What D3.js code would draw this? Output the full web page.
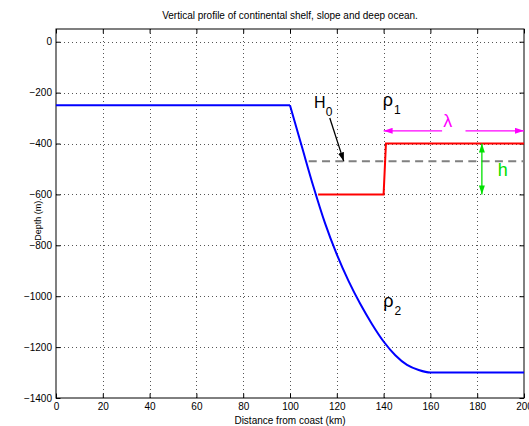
<!DOCTYPE html>
<html>
<head>
<meta charset="utf-8">
<script src="https://cdn.jsdelivr.net/npm/d3@7"></script>
<style>
  html, body { margin: 0; padding: 0; background: #fff; }
  svg { display: block; font-family: "Liberation Sans", Arial, Helvetica, sans-serif; }
</style>
</head>
<body>
<svg id="chart" width="529" height="426"></svg>
<script>
// Bottom profile: shelf, slope and abyssal plain (distance km, depth m)
const profileKm    = [0, 100, 105, 110, 115, 120, 125, 130, 135, 140, 145, 150, 155, 160, 200];
const profileDepth = [-250, -250, -410, -569, -714, -836, -940, -1030, -1109, -1178, -1232, -1270, -1290, -1300, -1300];

// Interface between the two layers (step of height h)
const interfaceKm    = [112, 140, 141, 200];
const interfaceDepth = [-600, -600, -400, -400];

// Mean interface depth H0
const meanKm    = [108, 200];
const meanDepth = [-470, -470];

// Annotation arrows: [x0, y0, x1, y1] in km / m
const h0Arrow      = [117, -300, 123, -470];
const lambdaArrows = [[165, -350, 140, -350], [175, -350, 200, -350]];
const hArrow       = [182, -400, 182, -600];

// Axis ticks
const xTicks = [0, 20, 40, 60, 80, 100, 120, 140, 160, 180, 200];
const yTicks = [-1400, -1200, -1000, -800, -600, -400, -200, 0];

const svg = d3.select("#chart");
const W = 529, H = 426;
const m = { left: 56, right: 5, top: 29, bottom: 28 };

const x = d3.scaleLinear().domain([0, 200]).range([m.left, W - m.right]);
const y = d3.scaleLinear().domain([-1400, 50]).range([H - m.bottom, m.top]);

const x0 = x.range()[0], x1 = x.range()[1];
const yTop = y.range()[1], yBot = y.range()[0];

// Dotted grid
const grid = svg.append("g").attr("stroke", "#555").attr("stroke-width", 1)
  .attr("stroke-dasharray", "1,3").attr("shape-rendering", "crispEdges");
grid.selectAll(".gx").data(xTicks.slice(1, -1)).join("line")
  .attr("x1", d => Math.round(x(d)) + 0.5).attr("x2", d => Math.round(x(d)) + 0.5)
  .attr("y1", yTop).attr("y2", yBot);
grid.selectAll(".gy").data(yTicks.slice(1)).join("line")
  .attr("y1", d => Math.round(y(d)) + 0.5).attr("y2", d => Math.round(y(d)) + 0.5)
  .attr("x1", x0).attr("x2", x1);

// Axes with inward ticks on all four sides
const tick = -4.5;
const fmt = d3.format("d");
const styleAxis = g => {
  g.select(".domain").remove();
  g.selectAll("line").attr("stroke", "#000");
  g.selectAll("text").attr("fill", "#000").attr("font-size", 10)
    .attr("font-family", "Liberation Sans, Arial, sans-serif");
};
svg.append("g").attr("transform", `translate(0,${yBot})`)
  .call(d3.axisBottom(x).tickValues(xTicks).tickSize(tick).tickPadding(5).tickFormat(fmt))
  .call(styleAxis);
svg.append("g").attr("transform", `translate(0,${yTop})`)
  .call(d3.axisTop(x).tickValues(xTicks).tickSize(tick).tickFormat(""))
  .call(styleAxis);
svg.append("g").attr("transform", `translate(${x0},0)`)
  .call(d3.axisLeft(y).tickValues(yTicks).tickSize(tick).tickPadding(4).tickFormat(fmt))
  .call(styleAxis);
svg.append("g").attr("transform", `translate(${x1},0)`)
  .call(d3.axisRight(y).tickValues(yTicks).tickSize(tick).tickFormat(""))
  .call(styleAxis);

// Plot box
svg.append("rect").attr("x", x0).attr("y", yTop)
  .attr("width", x1 - x0).attr("height", yBot - yTop)
  .attr("fill", "none").attr("stroke", "#000").attr("stroke-width", 1);

// Arrowhead markers
const defs = svg.append("defs");
function marker(id, color) {
  defs.append("marker").attr("id", id)
    .attr("viewBox", "0 0 9 6").attr("refX", 9).attr("refY", 3)
    .attr("markerWidth", 9).attr("markerHeight", 6)
    .attr("markerUnits", "userSpaceOnUse").attr("orient", "auto-start-reverse")
    .append("path").attr("d", "M0,0L9,3L0,6Z").attr("fill", color);
}
marker("ah-black", "#000");
marker("ah-mag", "#ff00ff");
marker("ah-green", "#00e000");

const pts = (xs, ys) => xs.map((d, i) => [d, ys[i]]);
const lin = d3.line().x(d => x(d[0])).y(d => y(d[1]));
const smooth = d3.line().x(d => x(d[0])).y(d => y(d[1])).curve(d3.curveMonotoneX);

// Mean interface (dashed)
svg.append("path").attr("d", lin(pts(meanKm, meanDepth)))
  .attr("fill", "none").attr("stroke", "#808080").attr("stroke-width", 2)
  .attr("stroke-dasharray", "8,5.3");

// Bottom profile: straight shelf, smooth slope
const prof = pts(profileKm, profileDepth);
const bottom = svg.append("g").attr("fill", "none").attr("stroke", "#0000ff")
  .attr("stroke-width", 2).attr("stroke-linejoin", "round");
bottom.append("path").attr("d", lin(prof.slice(0, 2)));
bottom.append("path").attr("d", smooth(prof.slice(1)));

// Layer interface
svg.append("path").attr("d", lin(pts(interfaceKm, interfaceDepth)))
  .attr("fill", "none").attr("stroke", "#ff0000").attr("stroke-width", 2);

// Arrows
function arrow(a, color, mk, both) {
  const p = svg.append("line")
    .attr("x1", x(a[0])).attr("y1", y(a[1])).attr("x2", x(a[2])).attr("y2", y(a[3]))
    .attr("stroke", color).attr("stroke-width", 1.3)
    .attr("marker-end", `url(#${mk})`);
  if (both) p.attr("marker-start", `url(#${mk})`);
}
arrow(h0Arrow, "#000", "ah-black", false);
lambdaArrows.forEach(a => arrow(a, "#ff00ff", "ah-mag", false));
arrow(hArrow, "#00e000", "ah-green", true);

// Text annotations
function subLabel(px, py, main, sub, color, size, subSize, dx, dy) {
  const t = svg.append("text").attr("x", px).attr("y", py)
    .attr("fill", color).attr("font-size", size);
  t.append("tspan").text(main);
  if (sub) t.append("tspan").attr("font-size", subSize).attr("dx", dx).attr("dy", dy).text(sub);
}
subLabel(x(110.3), y(-262), "H", "0", "#000", 16, 12, 0, 7.5);
subLabel(x(139.6), y(-253), "ρ", "1", "#000", 18, 12, 1, 8);
subLabel(x(139.9), y(-1042), "ρ", "2", "#000", 18, 12, 1, 8);
subLabel(x(165.5), y(-334), "λ", null, "#ff00ff", 18);
subLabel(x(188.8), y(-527), "h", null, "#00e000", 18);

// Titles
svg.append("text").attr("x", (x0 + x1) / 2).attr("y", 19)
  .attr("text-anchor", "middle").attr("font-size", 10)
  .text("Vertical profile of continental shelf, slope and deep ocean.");
svg.append("text").attr("x", (x0 + x1) / 2).attr("y", 424)
  .attr("text-anchor", "middle").attr("font-size", 10)
  .text("Distance from coast (km)");
svg.append("text").attr("transform", `translate(41,219.5) rotate(-90)`)
  .attr("text-anchor", "middle").attr("font-size", 9)
  .text("Depth (m).");
</script>
</body>
</html>
